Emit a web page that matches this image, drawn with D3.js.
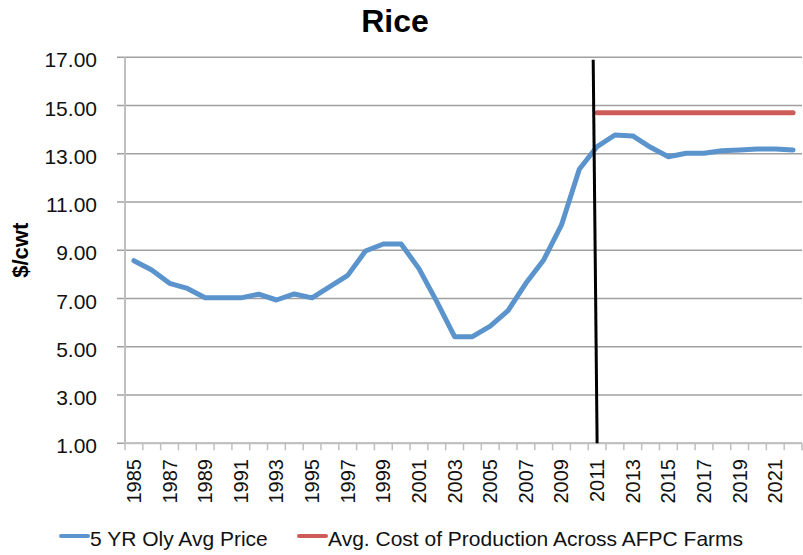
<!DOCTYPE html>
<html>
<head>
<meta charset="utf-8">
<script src="https://cdn.jsdelivr.net/npm/d3@7"></script>
<style>
  body { margin: 0; background: #fff; }
  svg { display: block; font-family: "Liberation Sans", Arial, sans-serif; }
</style>
</head>
<body>
<div id="chart"></div>
<script>
// data
var years = d3.range(1985, 2023);
var priceAvg = [8.57, 8.18, 7.63, 7.42, 7.03, 7.03, 7.03, 7.18, 6.94, 7.19,
                7.03, 7.49, 7.96, 8.97, 9.26, 9.26, 8.24, 6.87, 5.42, 5.42,
                5.86, 6.50, 7.63, 8.60, 10.05, 12.36, 13.30, 13.78, 13.74, 13.27,
                12.88, 13.02, 13.02, 13.13, 13.16, 13.20, 13.20, 13.16];
var costYears = d3.range(2011, 2023);
var costValues = costYears.map(function () { return 14.70; });
var yTicks = [1, 3, 5, 7, 9, 11, 13, 15, 17];
var labelYears = years.filter(function (d) { return (d - 1985) % 2 == 0; });
// hand drawn marker line (2011), slightly slanted
var markerLine = [{year: 2010.78, value: 16.9}, {year: 2011, value: 1}];
var seriesNames = ["5 YR Oly Avg Price", "Avg. Cost of Production Across AFPC Farms"];

var width = 803, height = 555;
// attention: "top" est deja pris par window.top
var plotLeft = 125, plotRight = 802, plotTop = 57.3, plotBottom = 443.3;
var blue = "#5b94cc", red = "#cd5c58";

var svg = d3.select("#chart").append("svg")
    .attr("width", width)
    .attr("height", height);

var x = d3.scaleBand().domain(years).range([plotLeft, plotRight]).padding(0);
var bw = x.bandwidth();
var cx = function (d) { return x(d) + bw / 2; };
var xYear = d3.scaleLinear().domain([1985, 2022]).range([cx(1985), cx(2022)]);
var y = d3.scaleLinear().domain([1, 17]).range([plotBottom, plotTop]);

// titre
svg.append("text")
    .attr("x", 395)
    .attr("y", 32)
    .attr("text-anchor", "middle")
    .attr("font-size", 32)
    .attr("font-weight", "bold")
    .text("Rice");

// grille horizontale
svg.append("g").selectAll("line").data(yTicks).enter().append("line")
    .attr("x1", plotLeft - 8)
    .attr("x2", plotRight)
    .attr("y1", function (d) { return y(d); })
    .attr("y2", function (d) { return y(d); })
    .attr("stroke", "#a0a0a0")
    .attr("stroke-width", 1.5);

// labels axe y
svg.append("g").selectAll("text").data(yTicks).enter().append("text")
    .attr("x", 97)
    .attr("y", function (d) { return y(d) + 10; })
    .attr("text-anchor", "end")
    .attr("font-size", 21)
    .attr("fill", "#111")
    .text(d3.format(".2f"));

svg.append("text")
    .attr("transform", "translate(28," + ((plotTop + plotBottom) / 2) + ") rotate(-90)")
    .attr("text-anchor", "middle")
    .attr("font-size", 22)
    .attr("font-weight", "bold")
    .text("$/cwt");

// axes
svg.append("line")
    .attr("x1", plotLeft).attr("x2", plotLeft)
    .attr("y1", plotTop).attr("y2", plotBottom)
    .attr("stroke", "#bfbfbf")
    .attr("stroke-width", 2);
svg.append("line")
    .attr("x1", plotLeft).attr("x2", plotRight)
    .attr("y1", plotBottom).attr("y2", plotBottom)
    .attr("stroke", "#bfbfbf")
    .attr("stroke-width", 2);

// ticks entre les categories
var tickPos = years.map(function (d) { return x(d); }).concat([plotRight]);
svg.append("g").selectAll("line").data(tickPos).enter().append("line")
    .attr("x1", function (d) { return d; })
    .attr("x2", function (d) { return d; })
    .attr("y1", plotBottom)
    .attr("y2", plotBottom + 7)
    .attr("stroke", "#bfbfbf")
    .attr("stroke-width", 1.5);

// labels axe x
svg.append("g").selectAll("text").data(labelYears).enter().append("text")
    .attr("transform", function (d) { return "translate(" + cx(d) + ",459) rotate(-90)"; })
    .attr("dy", "0.35em")
    .attr("text-anchor", "end")
    .attr("font-size", 20)
    .attr("fill", "#111")
    .text(function (d) { return d; });

// series
var line = d3.line()
    .x(function (d) { return cx(d[0]); })
    .y(function (d) { return y(d[1]); });

svg.append("path")
    .datum(d3.zip(costYears, costValues))
    .attr("d", line)
    .attr("fill", "none")
    .attr("stroke", red)
    .attr("stroke-width", 5)
    .attr("stroke-linecap", "round");

svg.append("path")
    .datum(d3.zip(years, priceAvg))
    .attr("d", line)
    .attr("fill", "none")
    .attr("stroke", blue)
    .attr("stroke-width", 5)
    .attr("stroke-linejoin", "round")
    .attr("stroke-linecap", "round");

// ligne verticale noire
svg.append("path")
    .datum(markerLine)
    .attr("d", d3.line()
        .x(function (d) { return xYear(d.year); })
        .y(function (d) { return y(d.value); }))
    .attr("fill", "none")
    .attr("stroke", "#000")
    .attr("stroke-width", 3);

// legende
var legend = [
    {name: seriesNames[0], color: blue, x: 60},
    {name: seriesNames[1], color: red, x: 298}
];
var lg = svg.append("g").selectAll("g").data(legend).enter().append("g")
    .attr("transform", function (d) { return "translate(" + d.x + ",536)"; });
lg.append("line")
    .attr("x1", 1).attr("x2", 28)
    .attr("stroke", function (d) { return d.color; })
    .attr("stroke-width", 4)
    .attr("stroke-linecap", "round");
lg.append("text")
    .attr("x", 30)
    .attr("y", 10)
    .attr("font-size", 21)
    .attr("fill", "#111")
    .text(function (d) { return d.name; });
</script>
</body>
</html>
